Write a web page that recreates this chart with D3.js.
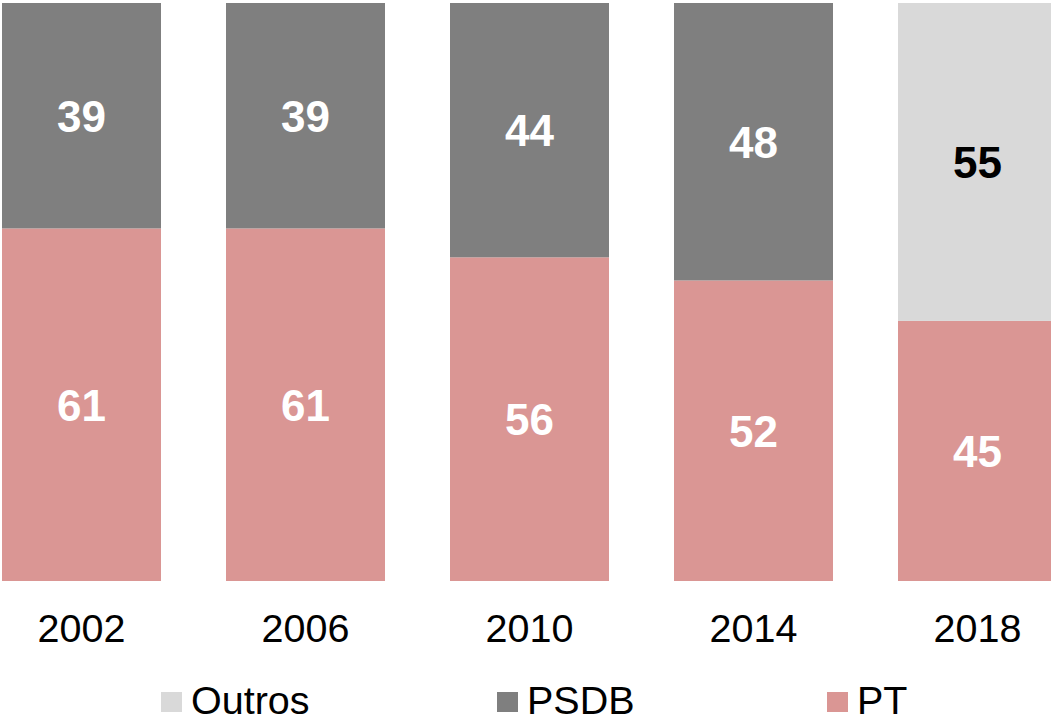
<!DOCTYPE html>
<html>
<head>
<meta charset="utf-8">
<script src="https://cdn.jsdelivr.net/npm/d3@7"></script>
<style>
  body { margin: 0; background: #fff; overflow: hidden; }
  text { font-family: "Liberation Sans", Arial, sans-serif; }
</style>
</head>
<body>
<svg id="chart" width="1051" height="721"></svg>
<script>
const years = ["2002", "2006", "2010", "2014", "2018"];
const ptValues = [61, 61, 56, 52, 45];
const psdbValues = [39, 39, 44, 48, 0];
const outrosValues = [0, 0, 0, 0, 55];

const seriesKeys = ["PT", "PSDB", "Outros"];
const colors = { PT: "#da9694", PSDB: "#7f7f7f", Outros: "#d9d9d9" };
const labelColors = { PT: "#ffffff", PSDB: "#ffffff", Outros: "#000000" };
const legendOrder = ["Outros", "PSDB", "PT"];

const rows = years.map((y, i) => ({
    year: y,
    PT: ptValues[i],
    PSDB: psdbValues[i],
    Outros: outrosValues[i]
}));

const svg = d3.select("#chart");

const xScale = d3.scaleBand()
    .domain(years)
    .range([2, 1057])
    .paddingInner(65 / 224)
    .paddingOuter(0);

const yScale = d3.scaleLinear()
    .domain([0, 100])
    .range([581, 3]);

const stacked = d3.stack().keys(seriesKeys)(rows);

const layers = svg.selectAll(".layer")
    .data(stacked)
    .join("g")
        .attr("class", "layer")
        .attr("fill", d => colors[d.key]);

layers.selectAll("rect")
    .data(d => d.filter(s => s[1] - s[0] > 0))
    .join("rect")
        .attr("x", d => xScale(d.data.year))
        .attr("y", d => yScale(d[1]))
        .attr("width", xScale.bandwidth())
        .attr("height", d => yScale(d[0]) - yScale(d[1]));

// value labels in the middle of each segment
stacked.forEach(layer => {
    svg.append("g")
        .selectAll("text")
        .data(layer.filter(s => s[1] - s[0] > 0))
        .join("text")
            .attr("x", d => xScale(d.data.year) + xScale.bandwidth() / 2)
            .attr("y", d => yScale((d[0] + d[1]) / 2))
            .attr("dy", "0.36em")
            .attr("text-anchor", "middle")
            .attr("font-size", 44)
            .attr("font-weight", 700)
            .attr("fill", labelColors[layer.key])
            .text(d => d[1] - d[0]);
});

// year axis (no line, no ticks)
const xAxis = svg.append("g")
    .attr("transform", "translate(0, 581)")
    .call(d3.axisBottom(xScale).tickSize(0).tickPadding(0));
xAxis.select(".domain").remove();
xAxis.selectAll("text")
    .attr("y", 61)
    .attr("dy", 0)
    .attr("font-size", 39.5)
    .attr("fill", "#000")
    .style("font-family", "'Liberation Sans', Arial, sans-serif");

// legend
const legendX = [161, 497, 827];
const legend = svg.append("g")
    .selectAll("g")
    .data(legendOrder)
    .join("g")
        .attr("transform", (d, i) => `translate(${legendX[i]}, 692)`);

legend.append("rect")
    .attr("width", 21)
    .attr("height", 20)
    .attr("fill", d => colors[d]);

legend.append("text")
    .attr("x", 30)
    .attr("y", 22)
    .attr("font-size", 39.5)
    .attr("fill", "#000")
    .text(d => d);
</script>
</body>
</html>
